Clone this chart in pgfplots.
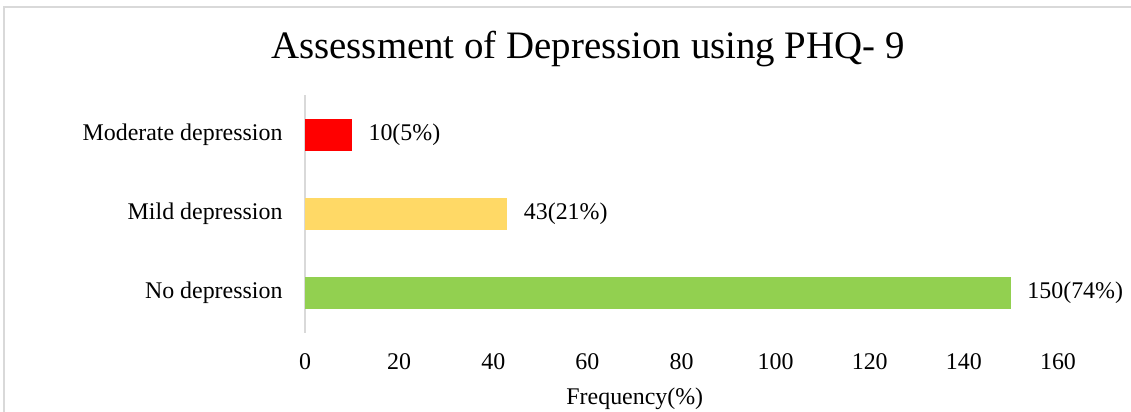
\documentclass[border=0pt]{standalone}
\usepackage{pgfplots}
\pgfplotsset{compat=1.18}
\usepackage{fontspec}
\setmainfont{Liberation Serif}
\definecolor{cred}{HTML}{FF0000}
\definecolor{cyel}{HTML}{FFD966}
\definecolor{cgrn}{HTML}{92D050}
\definecolor{cgray}{HTML}{D9D9D9}
\begin{document}
\begin{tikzpicture}
\useasboundingbox (0,0) rectangle (1131bp,412bp);
\draw[cgray, line width=1.5bp] (4bp,0) -- (4bp,405bp) -- (1131bp,405bp);
\node[font=\fontsize{39}{44}\selectfont] at (588bp,363bp) {Assessment of Depression using PHQ- 9};
\begin{axis}[
  at={(305bp,79.5bp)}, anchor=south west,
  scale only axis, width=753bp, height=237bp,
  xbar, bar width=32bp, bar shift=0pt,
  xmin=0, xmax=160, ymin=-0.5, ymax=2.5,
  xtick={0,20,...,160}, ytick={0,1,2},
  yticklabels={No depression, Mild depression, Moderate depression},
  axis x line*=bottom, axis y line*=left,
  x axis line style={draw=none},
  y axis line style={draw=cgray, line width=1.5bp, -},
  major tick length=0pt,
  tick label style={font=\fontsize{24}{28}\selectfont},
  /pgf/number format/assume math mode=true,
  xticklabel style={yshift=-18bp},
  yticklabel style={xshift=-19bp},
  xlabel={Frequency(\%)},
  xlabel style={font=\fontsize{24}{28}\selectfont, at={(axis description cs:0.438,0)}, anchor=center, yshift=-66bp},
  nodes near coords, point meta=explicit symbolic,
  nodes near coords style={font=\fontsize{24}{28}\selectfont, anchor=west, xshift=13bp, text=black},
  every axis plot/.append style={draw=none},
]
\addplot[fill=cgrn] coordinates {(150,0) [150(74\%)]};
\addplot[fill=cyel] coordinates {(43,1) [43(21\%)]};
\addplot[fill=cred] coordinates {(10,2) [10(5\%)]};
\end{axis}
\end{tikzpicture}
\end{document}
